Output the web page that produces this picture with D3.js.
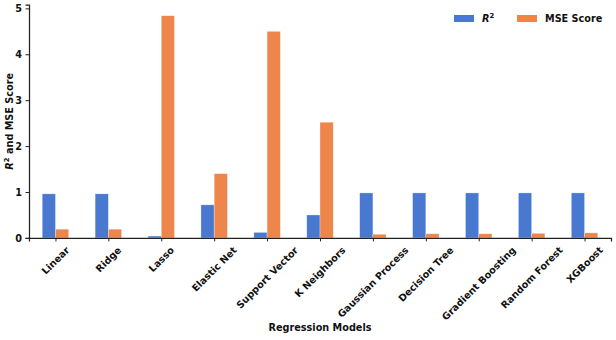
<!DOCTYPE html>
<html>
<head>
<meta charset="utf-8">
<script src="https://cdn.jsdelivr.net/npm/d3@7"></script>
<style>
  body { margin: 0; background: #fff; }
  text { font-family: "DejaVu Sans", sans-serif; font-weight: bold; fill: #111; }
</style>
</head>
<body>
<div id="chart"></div>
<script>
var models = ["Linear", "Ridge", "Lasso", "Elastic Net", "Support Vector", "K Neighbors",
    "Gaussian Process", "Decision Tree", "Gradient Boosting", "Random Forest", "XGBoost"]
var r2Values = [0.96, 0.96, 0.04, 0.72, 0.12, 0.50, 0.98, 0.98, 0.98, 0.98, 0.98]
var mseValues = [0.19, 0.19, 4.84, 1.40, 4.50, 2.52, 0.08, 0.09, 0.09, 0.10, 0.11]
var yTicks = [0, 1, 2, 3, 4, 5]

var series = [
    { name: "R2", values: r2Values, color: "#4878d0", offset: -1 },
    { name: "MSE Score", values: mseValues, color: "#ee854a", offset: 0 }
]

var W = 616, H = 340
var m = { top: 4.7, right: 5, bottom: 102, left: 29 }
var w = W - m.left - m.right,
    h = 237.9 - m.top
var FS = 9.7

var svg = d3.select("#chart").append("svg")
    .attr("width", W)
    .attr("height", H)

var x = d3.scaleLinear()
    .domain([-0.5, models.length - 0.5])
    .range([0, w])

var y = d3.scaleLinear()
    .domain([0, 5.08])
    .range([h, 0])

var barW = x(0.25) - x(0)

var g = svg.append("g")
    .attr("transform", "translate(" + m.left + "," + m.top + ")")

// bars
series.forEach(function (s) {
    g.append("g").selectAll("rect")
        .data(s.values)
        .enter().append("rect")
        .attr("x", function (d, i) { return x(i + s.offset * 0.25) })
        .attr("y", function (d) { return y(d) })
        .attr("width", barW)
        .attr("height", function (d) { return y(0) - y(d) })
        .attr("fill", s.color)
        .attr("stroke", "#ffffff")
        .attr("stroke-opacity", 0.5)
        .attr("stroke-width", 0.6)
})

// y axis
var yAxis = d3.axisLeft(y).tickValues(yTicks).tickSize(3.5).tickPadding(3.5)
    .tickFormat(d3.format("d"))
var gy = g.append("g").call(yAxis)
gy.select(".domain").attr("stroke", "#222").attr("stroke-width", 1.25)
gy.selectAll(".tick line").attr("stroke", "#222").attr("stroke-width", 1)
gy.selectAll(".tick text").style("font-size", FS + "px").attr("font-family", null)

// x axis
var xAxis = d3.axisBottom(x).tickValues(d3.range(models.length)).tickSize(3.5)
    .tickFormat("")
var gx = g.append("g")
    .attr("transform", "translate(0," + h + ")")
    .call(xAxis)
gx.select(".domain").attr("stroke", "#222").attr("stroke-width", 1.25)
gx.selectAll(".tick line").attr("stroke", "#222").attr("stroke-width", 1)

// rotated labels, bbox centred on the tick
var lblTop = h + 3.5 + 3.5
models.forEach(function (name, i) {
    var t = g.append("text")
        .attr("text-anchor", "middle")
        .attr("dominant-baseline", "central")
        .style("font-size", FS + "px")
        .text(name)
    var tw = t.node().getComputedTextLength()
    var th = FS * 1.0
    var bb = (tw + th) * Math.SQRT1_2
    var cx = x(i), cy = lblTop + bb / 2
    t.attr("transform", "translate(" + cx + "," + cy + ") rotate(-45)")
})

// axis titles
svg.append("text")
    .attr("x", m.left + w / 2)
    .attr("y", 331)
    .attr("text-anchor", "middle")
    .style("font-size", FS + "px")
    .text("Regression Models")

var yl = svg.append("text")
    .attr("transform", "translate(13," + (m.top + h / 2) + ") rotate(-90)")
    .attr("text-anchor", "middle")
    .style("font-size", FS + "px")
yl.append("tspan").style("font-style", "italic").text("R")
yl.append("tspan").attr("dy", -4).style("font-size", "6.8px").text("2")
yl.append("tspan").attr("dy", 4).text(" and MSE Score")

// legend
var leg = svg.append("g")
var legItems = [
    { color: series[0].color, x: 454, label: "R2" },
    { color: series[1].color, x: 517, label: "MSE Score" }
]
legItems.forEach(function (d) {
    leg.append("rect")
        .attr("x", d.x).attr("y", 15)
        .attr("width", 20).attr("height", 7)
        .attr("fill", d.color)
    var t = leg.append("text")
        .attr("x", d.x + 28).attr("y", 22)
        .style("font-size", FS + "px")
    if (d.label === "R2") {
        t.append("tspan").style("font-style", "italic").text("R")
        t.append("tspan").attr("dy", -4).style("font-size", "6.8px").text("2")
    } else {
        t.text(d.label)
    }
})
</script>
</body>
</html>
